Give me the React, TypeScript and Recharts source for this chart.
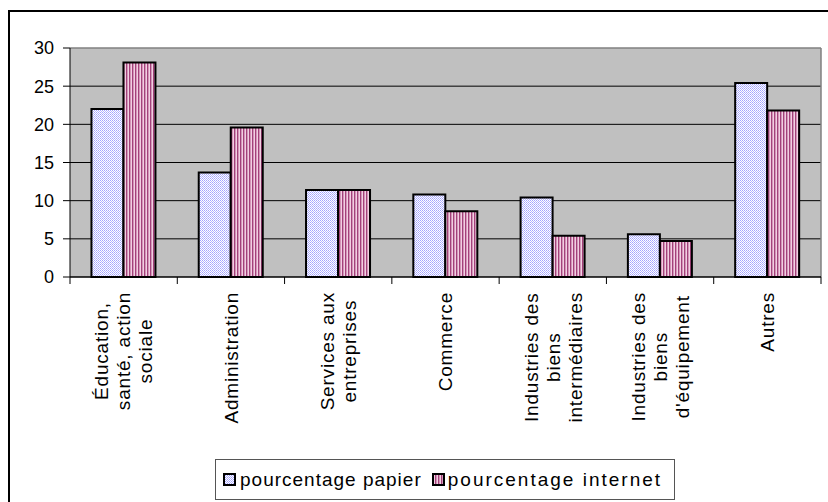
import React from "react";
import { BarChart, Bar, XAxis, YAxis, CartesianGrid } from "recharts";

const categories = [
  ["Éducation,", "santé, action", "sociale"],
  ["Administration"],
  ["Services aux", "entreprises"],
  ["Commerce"],
  ["Industries des", "biens", "intermédiaires"],
  ["Industries des", "biens", "d'équipement"],
  ["Autres"],
];
const papier = [22.0, 13.7, 11.4, 10.8, 10.4, 5.6, 25.4];
const internet = [28.1, 19.6, 11.4, 8.6, 5.4, 4.7, 21.8];
const yTicks = [0, 5, 10, 15, 20, 25, 30];
const seriesNames = ["pourcentage papier", "pourcentage internet"];

const data = categories.map((lines, i) => ({
  name: lines.join(" "),
  papier: papier[i],
  internet: internet[i],
}));

const FONT = "'Liberation Sans', Arial, sans-serif";
const LABEL_SIZE = 19;
const LABEL_SPACING = 0.8;
const Y_MAX = yTicks[yTicks.length - 1];

let ctx: CanvasRenderingContext2D | null = null;
const textWidth = (s: string) => {
  if (!ctx) ctx = document.createElement("canvas").getContext("2d");
  if (!ctx) return s.length * 9;
  ctx.font = `${LABEL_SIZE}px 'Liberation Sans'`;
  return ctx.measureText(s).width + s.length * LABEL_SPACING;
};

// pixel y of a value inside the plot area (linear domain 0..Y_MAX)
const yPix = (offset: any, v: number) =>
  offset.top + offset.height * (1 - v / Y_MAX);

const Patterns = () => (
  <defs>
    <pattern id="patPapier" width="2" height="2" patternUnits="userSpaceOnUse">
      <rect width="2" height="2" fill="#ffffff" />
      <rect width="1" height="1" fill="#a3a3ff" />
      <rect x="1" y="1" width="1" height="1" fill="#b8b8ff" />
    </pattern>
    <pattern id="patInternet" width="3" height="3" patternUnits="userSpaceOnUse">
      <rect width="3" height="3" fill="#f2cfe2" />
      <rect width="1.4" height="3" fill="#a3417a" />
    </pattern>
  </defs>
);

const CategoryTick = (props: any) => {
  const { x, y, payload, index } = props;
  const half = payload?.offset || 53.6;
  const lines: string[] = categories[index] || [String(payload.value)];
  const w = Math.max(...lines.map(textWidth));
  const lh = 22;
  return (
    <g>
      <line x1={x - half} y1={y} x2={x - half} y2={y + 7} stroke="#000" />
      {index === categories.length - 1 && (
        <line x1={x + half} y1={y} x2={x + half} y2={y + 7} stroke="#000" />
      )}
      <g transform={`translate(${x},${y + 15}) rotate(-90)`}>
        {lines.map((l, i) => (
          <text
            key={i}
            x={-w / 2}
            y={(i - (lines.length - 1) / 2) * lh}
            dy="0.36em"
            textAnchor="middle"
            fontSize={LABEL_SIZE}
            letterSpacing={LABEL_SPACING}
            fontFamily={FONT}
            fill="#000"
          >
            {l}
          </text>
        ))}
      </g>
    </g>
  );
};

const Swatch = ({ fill }: { fill: string }) => (
  <svg width="13" height="13" style={{ display: "block" }}>
    <rect x="1" y="1" width="11" height="11" fill={fill} stroke="#000" strokeWidth="2" />
  </svg>
);

export default function App() {
  return (
    <div
      style={{
        position: "absolute",
        left: 0,
        top: 0,
        width: 828,
        height: 502,
        overflow: "hidden",
        background: "#fff",
      }}
    >
      <div
        style={{
          position: "absolute",
          left: 8,
          top: 10,
          width: 900,
          height: 600,
          border: "2px solid #000",
        }}
      />
      <div style={{ position: "absolute", left: 0, top: 0 }}>
        <BarChart
          width={828}
          height={502}
          data={data}
          margin={{ top: 48, right: 7, bottom: 45, left: 8 }}
          barCategoryGap="20%"
          barGap={0}
        >
          <Patterns />
          <CartesianGrid
            vertical={false}
            fill="#c0c0c0"
            fillOpacity={1}
            stroke="#000"
            horizontalCoordinatesGenerator={({ offset }: any) =>
              yTicks.slice(1, -1).map((t) => yPix(offset, t))
            }
          />
          <CartesianGrid
            stroke="#808080"
            strokeWidth={1.5}
            horizontalCoordinatesGenerator={({ offset }: any) => [
              yPix(offset, Y_MAX),
            ]}
            verticalCoordinatesGenerator={({ offset }: any) => [
              offset.left + offset.width,
            ]}
          />
          <XAxis
            dataKey="name"
            interval={0}
            height={180}
            tickLine={false}
            tickSize={0}
            tickMargin={0}
            axisLine={{ stroke: "#000", strokeWidth: 1.5 }}
            tick={<CategoryTick />}
          />
          <YAxis
            domain={[0, Y_MAX]}
            ticks={yTicks}
            width={62}
            tickSize={7}
            tickMargin={9}
            axisLine={{ stroke: "#000" }}
            tickLine={{ stroke: "#000" }}
            tick={{ fill: "#000", fontSize: 18, fontFamily: FONT }}
          />
          <Bar
            dataKey="papier"
            name={seriesNames[0]}
            fill="url(#patPapier)"
            stroke="#000"
            strokeWidth={2}
            isAnimationActive={false}
          />
          <Bar
            dataKey="internet"
            name={seriesNames[1]}
            fill="url(#patInternet)"
            stroke="#000"
            strokeWidth={2}
            isAnimationActive={false}
          />
        </BarChart>
      </div>
      <div
        style={{
          position: "absolute",
          left: 215,
          top: 459,
          width: 460,
          height: 41,
          boxSizing: "border-box",
          border: "1px solid #555",
          background: "#fff",
          display: "flex",
          alignItems: "center",
          paddingLeft: 7,
          fontFamily: FONT,
          fontSize: 19,
          color: "#000",
        }}
      >
        <Swatch fill="url(#patPapier)" />
        <span style={{ marginLeft: 4, marginRight: 10, letterSpacing: 1 }}>
          {seriesNames[0]}
        </span>
        <Swatch fill="url(#patInternet)" />
        <span style={{ marginLeft: 3, letterSpacing: 2 }}>{seriesNames[1]}</span>
      </div>
    </div>
  );
}
